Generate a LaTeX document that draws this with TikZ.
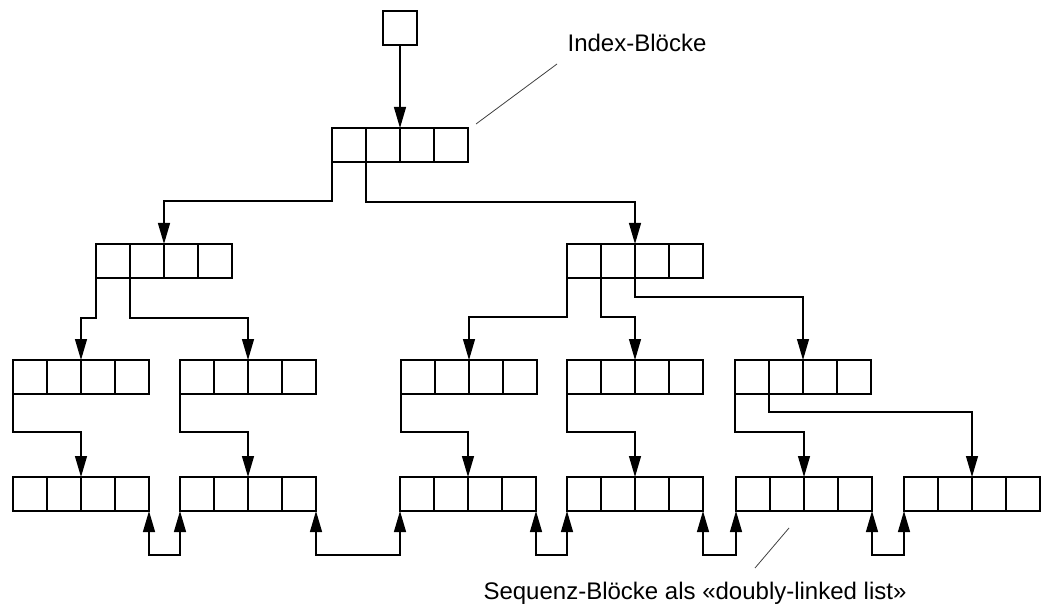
\documentclass[tikz,border=0pt]{standalone}
\usepackage{fontspec}
\setmainfont{Liberation Sans}
\usetikzlibrary{arrows.meta}
\newcommand\cellrow[3]{%
  \foreach \i in {1,...,4}{%
    \node[cell, anchor=north west] (#1-\i) at ({#2+34*(\i-1)},#3) {};
  }}
\begin{document}
\begin{tikzpicture}[x=1pt,y=-1pt,
  cell/.style={draw, line width=1.2pt, minimum width=34pt, minimum height=34pt, inner sep=0pt, outer sep=0pt},
  arr/.style={line width=1.2pt, -{Triangle[length=21pt,width=12pt]}},
  darr/.style={line width=1.2pt, {Triangle[length=21pt,width=12pt]}-{Triangle[length=21pt,width=12pt]}},
  lead/.style={line width=0.8pt, black!75},
  lbl/.style={font=\fontsize{24}{28}\selectfont, inner sep=0pt}]
\useasboundingbox (0,0) rectangle (1045,607);
% root
\node[cell, anchor=north west] (root) at (383,11) {};
% level 1
\cellrow{L1}{332}{128}
% level 2
\cellrow{L2a}{96}{244}
\cellrow{L2b}{567}{244}
% level 3
\cellrow{A}{13}{360}
\cellrow{B}{180}{360}
\cellrow{C}{401}{360}
\cellrow{D}{567}{360}
\cellrow{E}{735}{360}
% sequence blocks
\cellrow{Sa}{13}{477}
\cellrow{Sb}{180}{477}
\cellrow{Sc}{400}{477}
\cellrow{Sd}{567}{477}
\cellrow{Se}{736}{477}
\cellrow{Sf}{904}{477}
% index pointers
\draw[arr] (root.south) -- (L1-2.north east);
\draw[arr] (L1-1.south west) -- ++(0,39) -| (L2a-2.north east);
\draw[arr] (L1-2.south west) -- ++(0,40) -| (L2b-2.north east);
\draw[arr] (L2a-1.south west) -- ++(0,40) -| (A-2.north east);
\draw[arr] (L2a-2.south west) -- ++(0,40) -| (B-2.north east);
\draw[arr] (L2b-1.south west) -- ++(0,39) -| (C-2.north east);
\draw[arr] (L2b-2.south west) -- ++(0,39) -| (D-2.north east);
\draw[arr] (L2b-3.south west) -- ++(0,19) -| (E-2.north east);
\draw[arr] (A-1.south west) -- ++(0,38) -| (Sa-2.north east);
\draw[arr] (B-1.south west) -- ++(0,38) -| (Sb-2.north east);
\draw[arr] (C-1.south west) -- ++(0,38) -| (Sc-2.north east);
\draw[arr] (D-1.south west) -- ++(0,38) -| (Sd-2.north east);
\draw[arr] (E-1.south west) -- ++(0,38) -| (Se-2.north east);
\draw[arr] (E-2.south west) -- ++(0,18) -| (Sf-2.north east);
% doubly linked list
\draw[darr] (Sa-4.south east) -- ++(0,44) -| (Sb-1.south west);
\draw[darr] (Sb-4.south east) -- ++(0,44) -| (Sc-1.south west);
\draw[darr] (Sc-4.south east) -- ++(0,44) -| (Sd-1.south west);
\draw[darr] (Sd-4.south east) -- ++(0,44) -| (Se-1.south west);
\draw[darr] (Se-4.south east) -- ++(0,44) -| (Sf-1.south west);
% labels
\node[lbl, anchor=base] (idx) at (637,52) {Index-Blöcke};
\coordinate (idxA) at (557,64);
\coordinate (idxB) at (476,124);
\draw[lead] (idxA) -- (idxB);
\node[lbl, anchor=base] (seq) at (695,599) {Sequenz-Blöcke als «doubly-linked list»};
\coordinate (seqA) at (755,568);
\coordinate (seqB) at (789,528);
\draw[lead] (seqA) -- (seqB);
\end{tikzpicture}
\end{document}
